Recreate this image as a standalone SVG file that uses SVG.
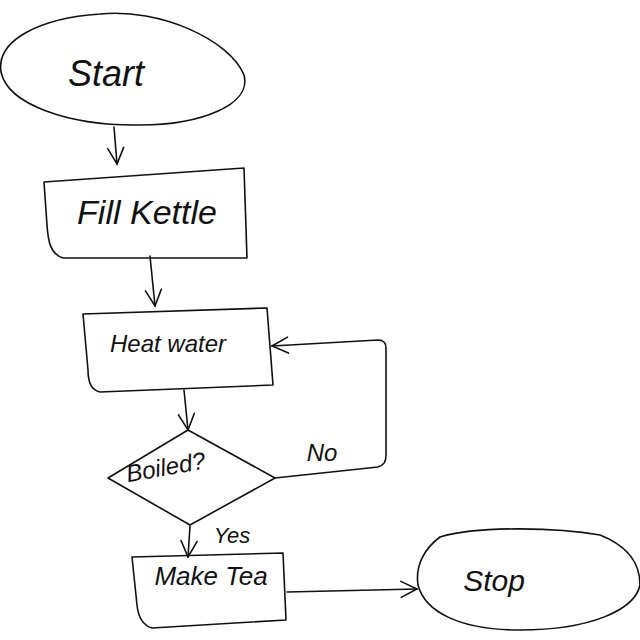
<svg xmlns="http://www.w3.org/2000/svg" width="640" height="640" viewBox="0 0 640 640">
<style>
.s{fill:none;stroke:#111;stroke-width:1.6;stroke-linecap:round;stroke-linejoin:round}
.t{font-family:"Liberation Sans",Arial,sans-serif;font-style:italic;fill:#111;text-anchor:middle;dominant-baseline:middle}
</style>
<defs>
<marker id="a" viewBox="0 0 20 20" refX="18" refY="10" markerWidth="20" markerHeight="20" markerUnits="userSpaceOnUse" orient="auto">
<path d="M2 2 L18 10 L2 18" fill="none" stroke="#111" stroke-width="1.6" stroke-linecap="round"/>
</marker>
</defs>
<rect width="640" height="640" fill="#fff"/>
<g id="start">
<path class="s" d="M100 14 C160 8 230 40 244 75 C252 105 200 125 140 125 C70 126 8 105 1 72 C-4 40 40 18 100 14 Z"/>
<text class="t" x="106" y="76" font-size="36">Start</text>
</g>
<g id="fill">
<path class="s" d="M44 182 L244 168 L247 258 L63 258 C50 254 48 240 47 225 Z"/>
<text class="t" x="147" y="215" font-size="34">Fill Kettle</text>
</g>
<g id="heat">
<path class="s" d="M83 314 L267 308 L273 385 L100 392 C90 390 88 380 88 370 Z"/>
<text class="t" x="168" y="346" font-size="24">Heat water</text>
</g>
<g id="boiled">
<path class="s" d="M188 430 L275 478 L190 525 L108 478 Z"/>
<text class="t" x="166" y="469" font-size="24" transform="rotate(-10 166 469)">Boiled?</text>
</g>
<g id="make">
<path class="s" d="M132 557 L283 553 L286 620 L152 628 C142 625 138 615 137 605 Z"/>
<text class="t" x="211" y="578" font-size="26">Make Tea</text>
</g>
<g id="stop">
<path class="s" d="M440 537 C480 525 560 528 600 535 C625 545 640 560 640 585 C635 610 590 630 520 630 C460 630 425 612 418 585 C415 565 425 548 440 537 Z"/>
<text class="t" x="494" y="583" font-size="30">Stop</text>
</g>
<g id="connectors">
<path class="s" d="M114 127 L117 164" marker-end="url(#a)"/>
<path class="s" d="M150 256 L155 306" marker-end="url(#a)"/>
<path class="s" d="M184 390 L188 430" marker-end="url(#a)"/>
<path class="s" d="M275 478 L378 467 C384 465 386 462 386 455 L386 348 C386 342 383 340 378 340 L272 346" marker-end="url(#a)"/>
<path class="s" d="M190 526 L188 557" marker-end="url(#a)"/>
<path class="s" d="M287 592 L417 589" marker-end="url(#a)"/>
<text class="t" x="322" y="455" font-size="24">No</text>
<text class="t" x="232" y="537" font-size="22">Yes</text>
</g>
</svg>
